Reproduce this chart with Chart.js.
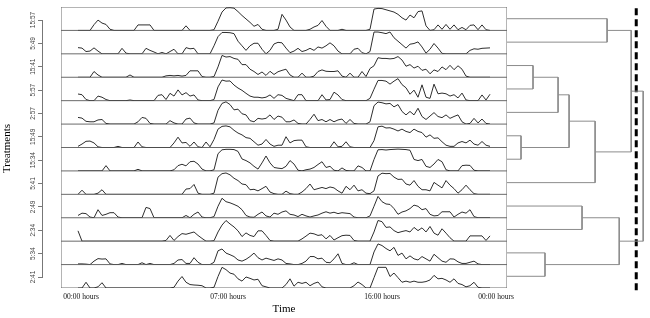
<!DOCTYPE html>
<html>
<head>
<meta charset="utf-8">
<script src="https://cdn.jsdelivr.net/npm/chart.js@4.4.0/dist/chart.umd.min.js"></script>
<style>
  html, body { margin: 0; padding: 0; background: #fff; }
</style>
</head>
<body>
<canvas id="chart" width="650" height="318"></canvas>
<script>
// treatments, top panel first
const treatments = ['15:57', '5:49', '15:41', '5:57', '2:57', '15:49', '15:34', '5:41', '2:49', '2:34', '5:34', '2:41'];

// activity per sample (one sample every 4 px of the time axis)
const s1557 = [0,0,0,0,2.5,4.5,3.2,2.6,0.5,0, 0,0,0,0,0,2.4,2.4,2.4,2.4,0, 0,0,0,0,0,0,0,2.0,0,0, 0,0,0,0,0.3,4,8,9.8,9.9,9.7, 8.2,6.5,5,3.5,1.8,2.6,0.5,0,0,0, 0.5,7,4.5,1.5,0,0,0,0,0.5,1.5, 2.2,4.3,1.8,0,0,0,0.5,0,0,0, 0,0,0,0.5,9.3,9.6,9.5,9.0,8.5,8.0, 7.0,5.5,4.5,6.7,5.5,8.2,8.5,2.0,0,0.3, 2.4,0.5,2.6,0.5,2.4,0.3,1.3,0.3,2.2,2.4, 0.3,2.4,0.3,0];
const s549 = [2.7,2.5,1.0,1.2,2.6,1.2,0,0,0,0, 0,2.4,0.3,0,0,0,0,2.4,1.5,0.8, 0,0.6,0,1.0,2.0,0,0,2.7,2.2,2.4, 0,0,0,0,3.5,7.5,9.3,9.3,9.2,8.8, 5.5,3.5,1.5,3.5,4.6,4.6,2.0,0,1.5,4.3, 5.0,4.8,2.5,0.5,1.2,2.4,1.0,1.5,2.4,1.5, 3.0,2.5,3.5,4.8,3.5,1.2,0,0,0,2.0, 2.4,0.5,0,1.0,9.5,9.5,9.2,8.8,9.5,7.0, 5.5,4.0,2.5,4.2,4.5,5.2,3.0,0.3,2.0,4.5, 2.5,0.2,0,0,0,0,0,0,1.5,2.2, 2.0,2.4,2.5,2.6];
const s1541 = [0,0,0,0,2.5,1.0,0,0,0,0, 0,0,0,1.0,0,0,0,0,0,0, 0,0,0.6,0.8,0.6,0.8,0.5,0.8,2.8,2.8, 2.8,0.3,0,0,0.3,4.5,9.5,8.8,9.0,8.2, 7.8,5.5,5.5,3.5,2.5,1.2,2.3,0.8,2.6,1.2, 2.4,3.0,3.5,1.0,0,0,1.8,0,0,0.5, 2.5,3.2,2.6,2.5,2.5,2.8,0.5,0,1.8,0, 0,2.5,0.3,3.8,5.0,8.5,8.2,8.2,8.0,8.2, 9.0,7.5,4.8,5.5,4.0,4.8,3.0,3.5,1.5,3.2, 2.5,4.5,3.3,5.2,3.3,5.0,3.5,0.5,0,0, 0,0,0,0];
const s557 = [2.9,2.6,0.5,0,0,2.0,1.5,0.5,0,0, 0,0,0,0.3,0,0,0,0,0,0, 2.3,2.6,0.5,3.2,2.0,4.7,2.5,3.5,2.0,2.5, 0.3,0,0,0,0.5,6.0,9.0,8.5,8.6,6.8, 5.5,4.5,3.2,2.0,1.5,1.5,1.2,1.5,2.5,1.0, 2.6,2.3,1.0,0.5,0,2.6,2.6,0,0,0, 0,2.6,0.3,0.5,3.7,2.5,0.5,0,0,0, 0,0,0,1.0,5.0,8.8,8.8,8.5,7.2,8.5, 9.6,7.0,5.6,2.8,4.6,1.5,6.9,1.5,1.0,7.2, 3.0,3.3,3.0,2.0,2.6,1.2,3.3,0.3,0,0, 0,2.5,0.3,2.8];
const s257 = [2.9,2.6,1.2,1.0,1.0,1.8,2.0,0.3,0,0, 0,0,0,0,0,1.0,2.9,2.5,0.3,0, 0,0,0,1.5,0.5,0,0,2.2,2.6,0.5, 0,0,0,0,0.5,6.0,9.0,9.7,8.5,6.2, 6.5,4.5,4.0,1.5,1.0,2.5,2.2,2.5,4.0,2.0, 3.5,3.0,1.0,1.0,1.8,0.3,0,0,2.0,4.3, 1.5,2.0,1.0,2.0,1.0,1.8,2.2,0.3,2.0,0.3, 0,0,0,1.0,8.0,9.6,9.3,8.8,9.0,7.5, 8.5,5.5,4.0,5.5,4.0,6.9,3.3,2.0,3.5,5.0, 3.3,2.8,4.0,2.5,3.3,4.0,1.0,0,0.3,2.5, 0.5,2.2,0.3,0];
const s1549 = [0.5,1.5,2.7,2.8,2.0,0.3,0,0,0,0, 0.5,0,0,0,0,2.4,0.3,0,0,0, 0,0,0,0,2.0,4.5,2.0,2.2,0.5,2.4, 0.3,0,2.4,0.3,3.5,8.0,9.2,9.4,9.0,7.5, 6.3,5.5,4.3,4.0,2.5,1.0,1.5,3.5,1.5,0.5, 1.0,1.0,4.7,2.0,3.0,3.2,3.2,0.3,0,0, 0,0,0,0,2.5,0.3,0.5,2.5,0.3,0, 0,0,0,0,3.0,9.0,9.3,8.5,8.6,8.0, 7.2,8.0,7.0,6.5,8.0,7.0,6.5,4.5,5.5,4.0, 4.2,2.5,1.0,0.5,0.5,2.0,2.6,2.0,3.2,1.5, 1.0,2.6,1.0,0.5];
const s1534 = [0,0,0,0,0,0,0,2.3,0,0, 0,0,0,0,0,0.7,0,0,0,0, 0,0,0,0,0.5,2.3,2.9,2.2,4.0,4.2, 3.0,0.8,0,0,0.5,7.5,9.2,9.4,9.4,9.3, 8.5,5.2,4.5,3.5,2.0,0.8,3.5,6.5,3.5,1.5, 1.2,1.0,2.0,4.5,3.0,0.3,0,0.5,0.8,1.5, 2.8,4.0,1.5,2.0,0.3,0,1.3,0.2,0,0, 2.2,1.5,0,0,5.0,9.2,9.3,9.1,9.3,9.4, 9.5,9.4,9.3,9.0,5.0,4.5,5.0,2.0,1.5,3.0, 5.0,4.0,0.5,0,0,0,2.3,2.5,2.4,0.3, 0,0,0,0];
const s541 = [0,1.8,0,0,0,0.5,2.0,0,0,0, 0,0,0,0,0,0,0,0,0,0, 0,0,0,0,0,0,0,2.3,2.5,4.3, 0.5,0,0,0,0.5,7.5,9.0,9.3,8.5,7.0, 6.0,4.5,4.2,2.0,2.2,1.5,2.5,3.5,1.0,0.3, 0,0,1.4,0.3,0,0,1.0,2.5,4.5,2.0, 2.5,3.0,2.5,3.2,2.8,1.5,0.5,3.5,2.0,4.0, 1.5,2.0,0.5,0.3,1.5,8.0,9.2,9.0,9.1,7.5, 6.5,6.6,4.5,4.0,6.0,3.5,2.0,2.0,1.5,5.2, 4.0,2.8,6.0,4.0,2.5,0.5,2.0,4.0,2.0,0.3, 0,0,0,0];
const s249 = [1.0,2.0,1.8,0.3,0,3.5,1.0,1.5,2.2,2.2, 0.3,0,0,0,0,0,0,4.5,4.0,0, 0,0,0,0,0,0,0,1.0,0,1.5, 2.5,0.3,0,0,0.5,5.0,8.5,7.0,6.5,5.8, 5.0,3.5,1.0,0.3,0.2,1.5,2.5,0.8,0.3,2.0, 1.5,2.5,3.0,1.5,1.2,0.5,1.5,0.8,0.3,0.8, 1.2,2.0,2.6,2.0,2.4,1.8,2.2,2.0,1.8,0.3, 0,0,0,0.8,5.0,9.3,7.0,6.0,5.8,4.0, 1.5,2.5,3.0,4.0,5.5,5.0,3.5,4.0,1.5,0.8, 1.0,2.6,2.6,2.6,0.3,1.5,2.5,2.0,3.5,0.5, 0,0,0,0];
const s234 = [4.5,0,0,0,0,0,0,0,0,0, 0,0,0,0,0,0,0,0,0,0, 0,0,0.3,2.5,0.3,2.0,3.3,3.0,3.5,4.0, 2.5,1.2,0,0,0.2,4.0,7.0,9.0,7.5,6.2, 4.5,2.0,3.6,2.5,2.0,4.5,4.5,2.5,0.3,0, 0,0,0,0,0,0,1.0,2.2,3.5,3.2, 2.5,2.8,1.0,2.5,0.5,1.5,2.4,2.6,2.5,0.3, 0,0,0,0,4.0,9.0,8.5,6.0,6.2,4.6, 3.7,4.2,4.6,4.0,6.0,4.6,5.8,4.0,6.4,3.5, 2.6,5.4,3.5,1.5,0,0,0,0,2.3,2.3, 2.3,2.3,0.3,2.3];
const s534 = [0.3,0.3,0.2,0,1.5,2.6,2.4,2.5,0.3,0, 0,0.5,0,0,0,0,0.8,0,0.5,0, 0,0,0,0,0.5,2.0,2.2,0.5,0.5,3.0, 1.0,0,0,0,1.0,6.0,6.8,5.0,4.3,3.5, 2.0,1.5,2.3,3.5,5.0,3.0,2.0,2.8,2.3,1.8, 2.5,2.0,0.5,0.3,0,0,0.5,1.5,3.5,3.5, 2.5,2.8,1.0,0.8,2.5,4.7,0.5,0,0,0.8, 0,0,0,0,5.5,9.0,8.3,7.0,6.0,7.5, 4.0,5.0,2.5,3.8,2.5,2.0,3.5,2.5,1.5,4.5, 3.0,1.5,1.0,2.5,2.4,1.2,0.5,0.5,1.0,1.5, 0.3,0,0,0];
const s241 = [0,0,2.5,0,0,0.5,2.3,0,0,0, 0,0,0,0,0,0,0,0,0,0, 0,0,0,0,0.3,3.0,5.0,2.5,1.5,1.3, 1.2,1.0,0,0,0.3,5.0,9.0,8.0,6.5,6.0, 4.0,3.0,4.8,4.2,3.5,3.8,1.0,0.5,0,0, 0,0,1.5,4.0,0.8,2.5,2.0,2.5,1.0,2.0, 2.6,0.5,0,0,0,0,0,0,0,1.0, 2.6,1.5,0,0,4.5,9.0,9.0,9.0,5.0,6.5, 4.5,2.5,3.0,2.5,3.0,2.5,2.5,2.8,3.5,5.5, 4.0,4.2,3.5,2.5,4.0,2.0,1.5,0.5,1.0,2.5, 0.3,0,0,0];
const series = [s1557, s549, s1541, s557, s257, s1549, s1534, s541, s249, s234, s534, s241];

// time axis in sample units
const timeMin = -4.25, timeMax = 107.25;
const timeTicks = [0.75, 37.5, 76, 104.5];
const timeLabels = ['00:00 hours', '07:00 hours', '16:00 hours', '00:00 hours'];

// dendrogram: [a, b, height], a/b are panels (0-11) or earlier merges (12+)
const merges = [[0, 1, 0.735], [2, 3, 0.191], [13, 4, 0.375], [5, 6, 0.103], [14, 15, 0.456],
  [16, 7, 0.647], [12, 17, 0.912], [8, 9, 0.551], [10, 11, 0.279], [19, 20, 0.824], [18, 21, 1.0]];
const cutHeight = 0.949;

const n = treatments.length;
const datasets = [];

series.forEach((vals, k) => {
  datasets.push({
    data: vals.map((v, i) => ({x: i, y: v})),
    xAxisID: 'x', yAxisID: 'p' + k,
    borderColor: '#2e2e2e', borderWidth: 1, pointRadius: 0, tension: 0
  });
});

// panel frame
const frame = [];
for (let j = 0; j <= n; j++) {
  frame.push({x: timeMin, y: j}, {x: timeMax, y: j}, {x: timeMax, y: null});
}
frame.push({x: timeMin, y: 0}, {x: timeMin, y: n}, {x: timeMin, y: null}, {x: timeMax, y: 0}, {x: timeMax, y: n});
datasets.push({data: frame, xAxisID: 'x', yAxisID: 'yDen', borderColor: '#6a6a6a', borderWidth: 1, pointRadius: 0, spanGaps: false});

// dendrogram links
const nodeY = treatments.map((t, k) => n - 0.5 - k);
const nodeH = treatments.map(() => 0);
const den = [];
merges.forEach(([a, b, h]) => {
  den.push({x: nodeH[a], y: nodeY[a]}, {x: h, y: nodeY[a]}, {x: h, y: nodeY[b]}, {x: nodeH[b], y: nodeY[b]}, {x: h, y: null});
  nodeY.push((nodeY[a] + nodeY[b]) / 2);
  nodeH.push(h);
});
datasets.push({data: den, xAxisID: 'xDen', yAxisID: 'yDen', borderColor: '#8c8c8c', borderWidth: 1, pointRadius: 0, spanGaps: false});

// cut line
datasets.push({
  data: [{x: cutHeight, y: -0.1}, {x: cutHeight, y: n + 0.1}],
  xAxisID: 'xDen', yAxisID: 'yDen', borderColor: '#000', borderWidth: 3, borderDash: [7, 4],
  pointRadius: 0, clip: false
});

// members of a stack must report the same size, or the stack comes out short
const leftWidth = s => { s.width = 42; s.paddingTop = 0; s.paddingBottom = 0; };
const bottomHeight = s => { s.height = 30; s.paddingLeft = 0; s.paddingRight = 0; };

const scales = {
  yTop: {type: 'linear', display: false, position: 'left', stack: 'lab', stackWeight: 13, weight: 3, afterFit: leftWidth},
  yLab: {
    type: 'category', labels: treatments, position: 'left', stack: 'lab', stackWeight: 257, weight: 2, offset: false,
    grid: {display: true, drawOnChartArea: false, drawTicks: true, tickLength: 4, offset: false, color: '#777'},
    border: {display: true, color: '#777'},
    ticks: {font: {family: 'Liberation Sans', size: 6.5}, color: '#444', minRotation: 90, maxRotation: 90,
      crossAlign: 'center', padding: -3, autoSkip: false},
    title: {display: true, text: 'Treatments', font: {family: 'Liberation Serif', size: 11}, color: '#000',
      padding: {top: 0.5, bottom: 0}},
    afterFit: leftWidth
  },
  yBot: {type: 'linear', display: false, position: 'left', stack: 'lab', stackWeight: 11, weight: 1, afterFit: leftWidth},
  xPad: {type: 'linear', display: false, position: 'bottom', stack: 'row', stackWeight: 19, weight: 0, afterFit: bottomHeight},
  x: {
    type: 'linear', position: 'bottom', stack: 'row', stackWeight: 446, weight: 1, min: timeMin, max: timeMax,
    grid: {display: false}, border: {display: false},
    ticks: {font: {family: 'Liberation Serif', size: 7.5}, color: '#111', padding: -3, maxRotation: 0, autoSkip: false,
      callback: (v, i) => timeLabels[i]},
    afterBuildTicks: s => { s.ticks = timeTicks.map(v => ({value: v})); },
    title: {display: true, text: 'Time', font: {family: 'Liberation Serif', size: 11}, color: '#000',
      padding: {top: 0, bottom: 2.4}},
    afterFit: bottomHeight
  },
  xDen: {type: 'linear', display: false, position: 'bottom', stack: 'row', stackWeight: 143, weight: 2, min: 0, max: 1.05, afterFit: bottomHeight},
  yDen: {type: 'linear', display: false, position: 'right', weight: 20, min: 0, max: n}
};
series.forEach((v, k) => {
  scales['p' + k] = {type: 'linear', display: false, position: 'right', stack: 'panels', stackWeight: 1, weight: k, min: 0, max: 10.2};
});

new Chart(document.getElementById('chart'), {
  type: 'line',
  data: {datasets},
  options: {
    responsive: false,
    animation: false,
    events: [],
    layout: {padding: {top: 7, left: 0, right: 0, bottom: 0}},
    plugins: {legend: {display: false}, tooltip: {enabled: false}},
    scales
  }
});
</script>
</body>
</html>
